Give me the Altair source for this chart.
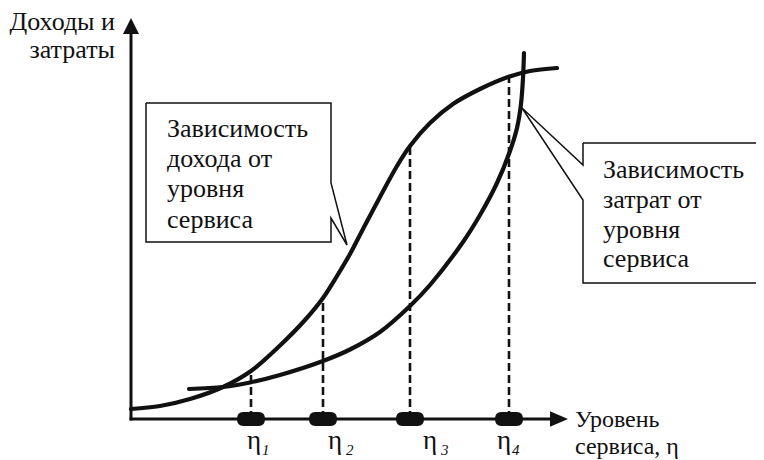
import altair as alt
import pandas as pd

# Data units: horizontal = service level, vertical = income / costs (origin at the axes corner)
INCOME_X = [0, 29, 59, 92, 120, 149, 174, 192, 206, 219, 232, 249, 266, 279, 299, 322, 349, 377, 399, 426]
INCOME_Y = [10, 13, 20, 32, 48, 73.5, 99, 121, 143, 165, 190, 222, 253, 273, 296, 315, 330, 342, 348, 351]

COST_X = [58, 92, 119, 149, 192, 219, 249, 279, 299, 332, 349, 366, 379, 386, 390, 392, 393]
COST_Y = [30, 32, 36.5, 44, 58, 69.5, 87, 113, 134, 177, 204, 236, 268, 291, 315, 341, 366]

ETA_X = [120, 192, 279, 378]
ETA_TOP = [48, 121, 273, 342]
ETA_SUB = ["1", "2", "3", "4"]
ETA_LABEL_X = [116, 197, 292, 366]
ETA_SUB_X = [131, 215, 310, 381]

AXIS_X_END = 425
AXIS_Y_END = 395
ARROW_X = 428
ARROW_Y = 393

CALLOUT1_X = [15, 200, 200, 216, 200, 200, 15, 15]
CALLOUT1_Y = [316, 316, 236, 174, 201, 177, 177, 316]
CALLOUT2_X = [452, 626, 626, 452, 452, 391, 452, 452]
CALLOUT2_Y = [276, 276, 136, 136, 219, 311, 254, 276]

BOX1_LINES = ["Зависимость", "дохода от", "уровня", "сервиса"]
BOX1_X = 36
BOX1_Y = [282, 252, 222, 191]
BOX2_LINES = ["Зависимость", "затрат от", "уровня", "сервиса"]
BOX2_X = 472
BOX2_Y = [241, 211, 181, 152]

YTITLE_LINES = ["Доходы и", "затраты"]
YTITLE_X = -16
YTITLE_Y = [389, 361]
XTITLE_LINES = ["Уровень", "сервиса, η"]
XTITLE_X = 444
XTITLE_Y = [-8, -35]

ETA_Y = -30
ETA_SUB_Y = -36

INK = "#111111"
FONT = "Liberation Serif"

xs = alt.Scale(domain=[-123, 625], nice=False, zero=False)
ys = alt.Scale(domain=[-41, 411], nice=False, zero=False)


def X(f="x"):
    return alt.X(f"{f}:Q", scale=xs, axis=None)


def Y(f="y"):
    return alt.Y(f"{f}:Q", scale=ys, axis=None)


def path_df(xv, yv):
    return pd.DataFrame({"x": xv, "y": yv, "i": list(range(len(xv)))})


income = alt.Chart(path_df(INCOME_X, INCOME_Y)).mark_line(
    color=INK, strokeWidth=4.2, interpolate="catmull-rom", strokeCap="round"
).encode(x=X(), y=Y(), order="i:Q")

cost = alt.Chart(path_df(COST_X, COST_Y)).mark_line(
    color=INK, strokeWidth=4.2, interpolate="catmull-rom", strokeCap="round"
).encode(x=X(), y=Y(), order="i:Q")

eta_df = pd.DataFrame({"x": ETA_X, "top": ETA_TOP, "zero": [0] * len(ETA_X)})
dashes = alt.Chart(eta_df).mark_rule(color=INK, strokeWidth=2.6, strokeDash=[8, 4]).encode(
    x=X(), y=Y("zero"), y2=alt.Y2("top:Q")
)

axes_df = pd.DataFrame({"x": [0, 0], "y": [0, 0], "x2": [0, AXIS_X_END], "y2": [AXIS_Y_END, 0]})
axes = alt.Chart(axes_df).mark_rule(color=INK, strokeWidth=3, strokeCap="square").encode(
    x=X(), y=Y(), x2=alt.X2("x2:Q"), y2=alt.Y2("y2:Q")
)

arrow_up = alt.Chart(pd.DataFrame({"x": [0], "y": [ARROW_Y]})).mark_point(
    shape="M0,-1 L1,1 L-1,1 Z", size=256, filled=True, color=INK, opacity=1, strokeWidth=0
).encode(x=X(), y=Y())

arrow_right = alt.Chart(pd.DataFrame({"x": [ARROW_X], "y": [0]})).mark_point(
    shape="M1,0 L-1,-0.85 L-1,0.85 Z", size=324, filled=True, color=INK, opacity=1, strokeWidth=0
).encode(x=X(), y=Y())

pill = "M-0.55,-0.5 L0.55,-0.5 Q1,-0.5 1,0 Q1,0.5 0.55,0.5 L-0.55,0.5 Q-1,0.5 -1,0 Q-1,-0.5 -0.55,-0.5 Z"
markers = alt.Chart(eta_df).mark_point(
    shape=pill, size=784, filled=True, color=INK, opacity=1, strokeWidth=0
).encode(x=X(), y=Y("zero"))

call1 = alt.Chart(path_df(CALLOUT1_X, CALLOUT1_Y)).mark_line(
    color=INK, strokeWidth=1.5, strokeJoin="miter"
).encode(x=X(), y=Y(), order="i:Q")
call2 = alt.Chart(path_df(CALLOUT2_X, CALLOUT2_Y)).mark_line(
    color=INK, strokeWidth=1.5, strokeJoin="miter"
).encode(x=X(), y=Y(), order="i:Q")


def text_layer(lines, xv, yv, align, size=26, italic=False):
    if not isinstance(xv, list):
        xv = [xv] * len(lines)
    df = pd.DataFrame({"t": lines, "x": xv, "y": yv})
    return alt.Chart(df).mark_text(
        align=align, baseline="alphabetic", font=FONT, fontSize=size, color=INK,
        fontStyle="italic" if italic else "normal"
    ).encode(x=X(), y=Y(), text="t:N")


box1_text = text_layer(BOX1_LINES, BOX1_X, BOX1_Y, "left")
box2_text = text_layer(BOX2_LINES, BOX2_X, BOX2_Y, "left")
ytitle = text_layer(YTITLE_LINES, YTITLE_X, YTITLE_Y, "right")
xtitle = text_layer(XTITLE_LINES, XTITLE_X, XTITLE_Y, "left", size=24)
eta_main = text_layer(["η"] * 4, ETA_LABEL_X, [ETA_Y] * 4, "left", size=27)
eta_sub = text_layer(ETA_SUB, ETA_SUB_X, [ETA_SUB_Y] * 4, "left", size=15, italic=True)

chart = alt.layer(
    dashes, income, cost, axes, arrow_up, arrow_right, markers,
    call1, call2, box1_text, box2_text, ytitle, xtitle, eta_main, eta_sub
).properties(
    width=748, height=452, padding=0, autosize="none", background="white"
).configure_view(stroke=None)

chart.save("out.html", embed_options={"renderer": "svg", "actions": False})
